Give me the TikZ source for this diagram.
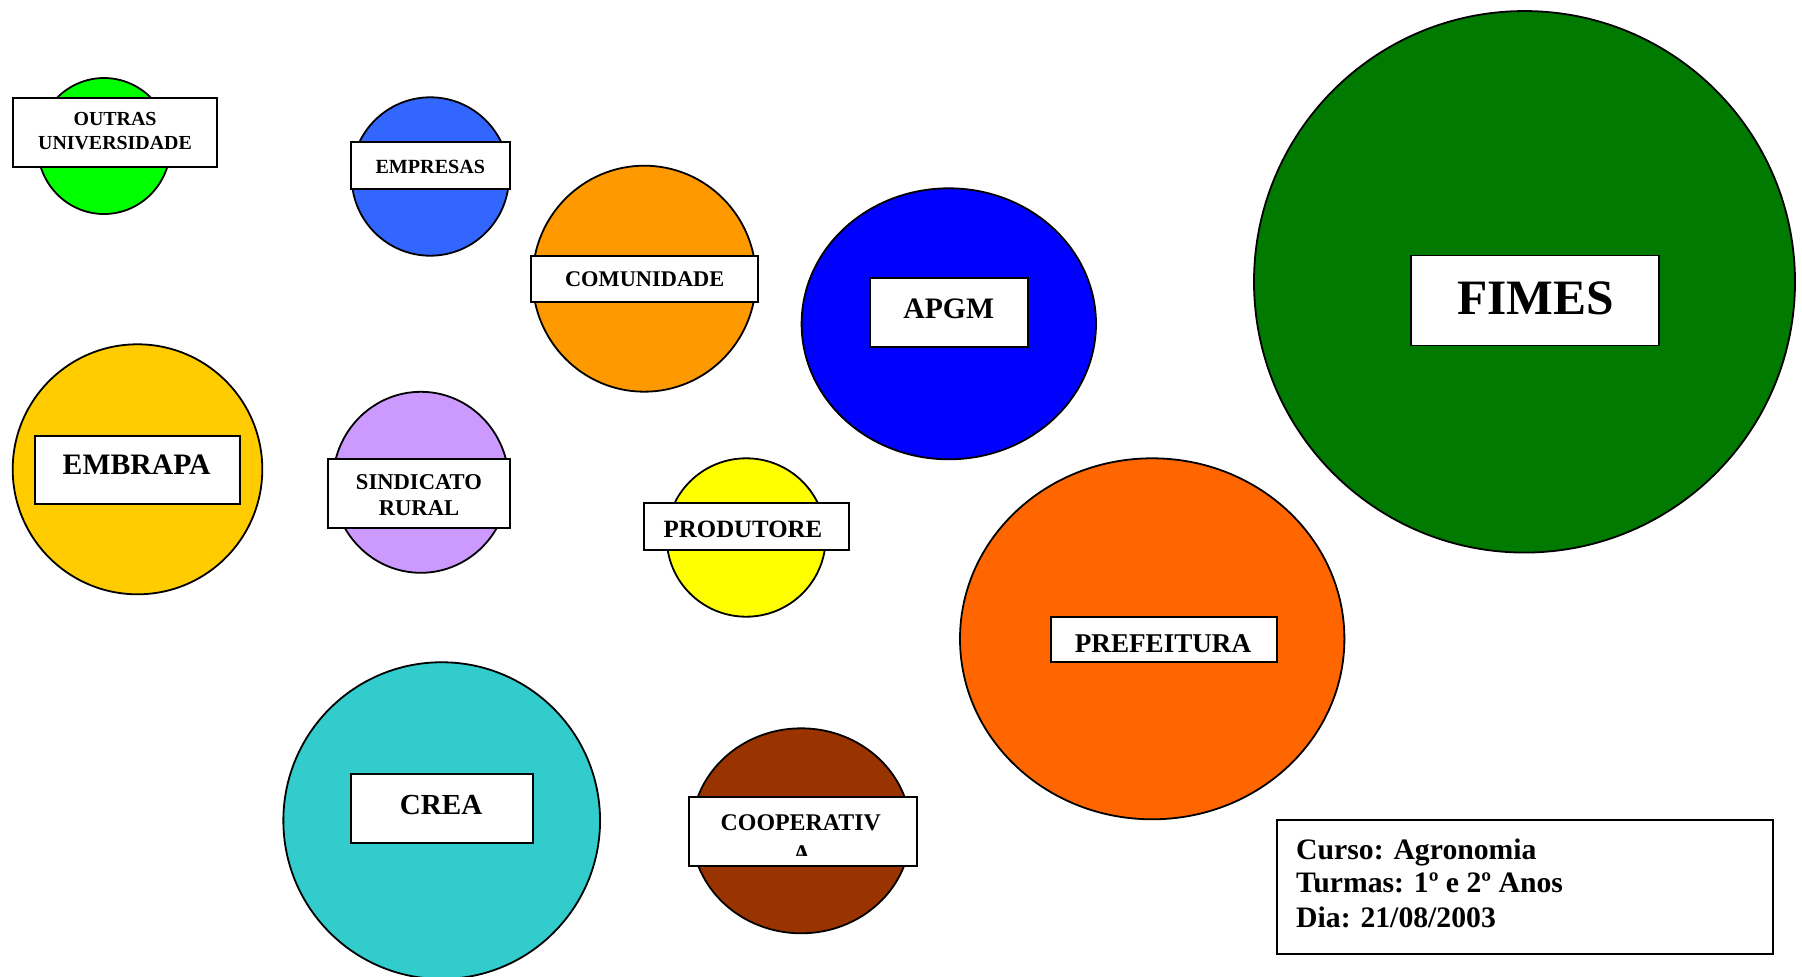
\documentclass[tikz,border=0pt]{standalone}
\usepackage{fontspec}
\setmainfont{Liberation Serif}
\usetikzlibrary{shapes.geometric}
\definecolor{cOutras}{HTML}{00FF00}
\definecolor{cEmpresas}{HTML}{3366FF}
\definecolor{cComunidade}{HTML}{FF9900}
\definecolor{cApgm}{HTML}{0000FF}
\definecolor{cFimes}{HTML}{007A00}
\definecolor{cEmbrapa}{HTML}{FFCC00}
\definecolor{cSindicato}{HTML}{CC99FF}
\definecolor{cProdutore}{HTML}{FFFF00}
\definecolor{cPrefeitura}{HTML}{FF6600}
\definecolor{cCrea}{HTML}{33CCCC}
\definecolor{cCoop}{HTML}{993300}
\newcommand{\fs}[1]{\bfseries\fontsize{#1}{#1}\selectfont}
\begin{document}
\begin{tikzpicture}[x=1pt,y=-1pt,
  disc/.style={ellipse, draw=black, line width=1.8pt, inner sep=0pt},
  tag/.style={rectangle, draw=black, fill=white, line width=1.8pt, inner sep=0pt},
  lbl/.style={anchor=base, inner sep=0pt}]
\useasboundingbox (0,0) rectangle (1802,977);
\clip (0,0) rectangle (1802,977);
% circles
\node[disc, fill=cOutras, minimum width=133pt, minimum height=136pt] (dOutras) at (104,146) {};
\node[disc, fill=cEmpresas, minimum width=157.4pt, minimum height=158.4pt] (dEmpresas) at (430.3,176.5) {};
\node[disc, fill=cComunidade, minimum width=223.4pt, minimum height=226pt] (dComunidade) at (644.3,278.7) {};
\node[disc, fill=cApgm, minimum width=294.4pt, minimum height=271pt] (dApgm) at (948.8,323.8) {};
\node[disc, fill=cFimes, minimum width=541pt, minimum height=541.5pt] (dFimes) at (1524.5,281.8) {};
\node[disc, fill=cEmbrapa, minimum width=249.6pt, minimum height=250pt] (dEmbrapa) at (137.5,469.3) {};
\node[disc, fill=cSindicato, minimum width=176pt, minimum height=181pt] (dSindicato) at (420.8,482.3) {};
\node[disc, fill=cProdutore, minimum width=159pt, minimum height=158.4pt] (dProdutore) at (746.2,537.5) {};
\node[disc, fill=cPrefeitura, minimum width=384.4pt, minimum height=361pt] (dPrefeitura) at (1152.2,638.8) {};
\node[disc, fill=cCrea, minimum width=316.7pt, minimum height=316.7pt] (dCrea) at (441.7,820.6) {};
\node[disc, fill=cCoop, minimum width=219pt, minimum height=205pt] (dCoop) at (801.2,830.8) {};
% label boxes
\node[tag, minimum width=204pt, minimum height=69pt] (bOutras) at (114.7,132.2) {};
\node[tag, minimum width=159.3pt, minimum height=46.4pt] (bEmpresas) at (430.3,165.5) {};
\node[tag, minimum width=226.7pt, minimum height=46pt] (bComunidade) at (644.3,278.7) {};
\node[tag, minimum width=158.3pt, minimum height=68.4pt] (bApgm) at (949.2,312.5) {};
\node[tag, minimum width=248pt, minimum height=90pt] (bFimes) at (1535.2,300.5) {};
\node[tag, minimum width=205pt, minimum height=68.3pt] (bEmbrapa) at (137.5,470.2) {};
\node[tag, minimum width=181.7pt, minimum height=69.3pt] (bSindicato) at (419.2,493.7) {};
\node[tag, minimum width=204.7pt, minimum height=46.7pt] (bProdutore) at (746.3,526.7) {};
\node[tag, minimum width=226pt, minimum height=45.6pt] (bPrefeitura) at (1163.7,639.5) {};
\node[tag, minimum width=182pt, minimum height=69pt] (bCrea) at (441.7,808.8) {};
\node[tag, minimum width=227.4pt, minimum height=68.4pt] (bCoop) at (803,831.5) {};
\node[tag, minimum width=496.6pt, minimum height=134pt] (bInfo) at (1525,887) {};
% texts
\node[lbl, font=\fs{19.9}] (tOutras1) at (115,125.7) {OUTRAS};
\node[lbl, font=\fs{19.9}] (tOutras2) at (115,149.3) {UNIVERSIDADE};
\node[lbl, font=\fs{20.1}] (tEmpresas) at (430.3,173.3) {EMPRESAS};
\node[lbl, font=\fs{22.4}] (tComunidade) at (644.7,286.7) {COMUNIDADE};
\node[lbl, font=\fs{29.7}] (tApgm) at (948.7,318.3) {APGM};
\node[lbl, font=\fs{49.5}] (tFimes) at (1535.5,314) {FIMES};
\node[lbl, font=\fs{29.7}] (tEmbrapa) at (136.7,474.3) {EMBRAPA};
\node[lbl, font=\fs{22.6}] (tSind1) at (419,489.3) {SINDICATO};
\node[lbl, font=\fs{22.6}] (tSind2) at (419,515) {RURAL};
\node[lbl, font=\fs{24.9}] (tProdutore) at (743,537.3) {PRODUTORE};
\node[lbl, font=\fs{27.1}] (tPrefeitura) at (1163,652.3) {PREFEITURA};
\node[lbl, font=\fs{29.1}] (tCrea) at (441.2,814) {CREA};
\node[lbl, font=\fs{23.9}] (tCoop1) at (800.8,830.7) {COOPERATIV};
\begin{scope}
  \clip (690,835) rectangle (916,855);
  \node[lbl, font=\fs{23.9}] (tCoop2) at (801.7,861) {A};
\end{scope}
\node[lbl, anchor=base west, font=\fs{29.7}] (tInfo1) at (1296,859.3) {Curso: Agronomia};
\node[lbl, anchor=base west, font=\fs{29.7}] (tInfo2) at (1296,892.3) {Turmas: 1º e 2º Anos};
\node[lbl, anchor=base west, font=\fs{29.7}] (tInfo3) at (1296,927.3) {Dia: 21/08/2003};
\end{tikzpicture}
\end{document}
